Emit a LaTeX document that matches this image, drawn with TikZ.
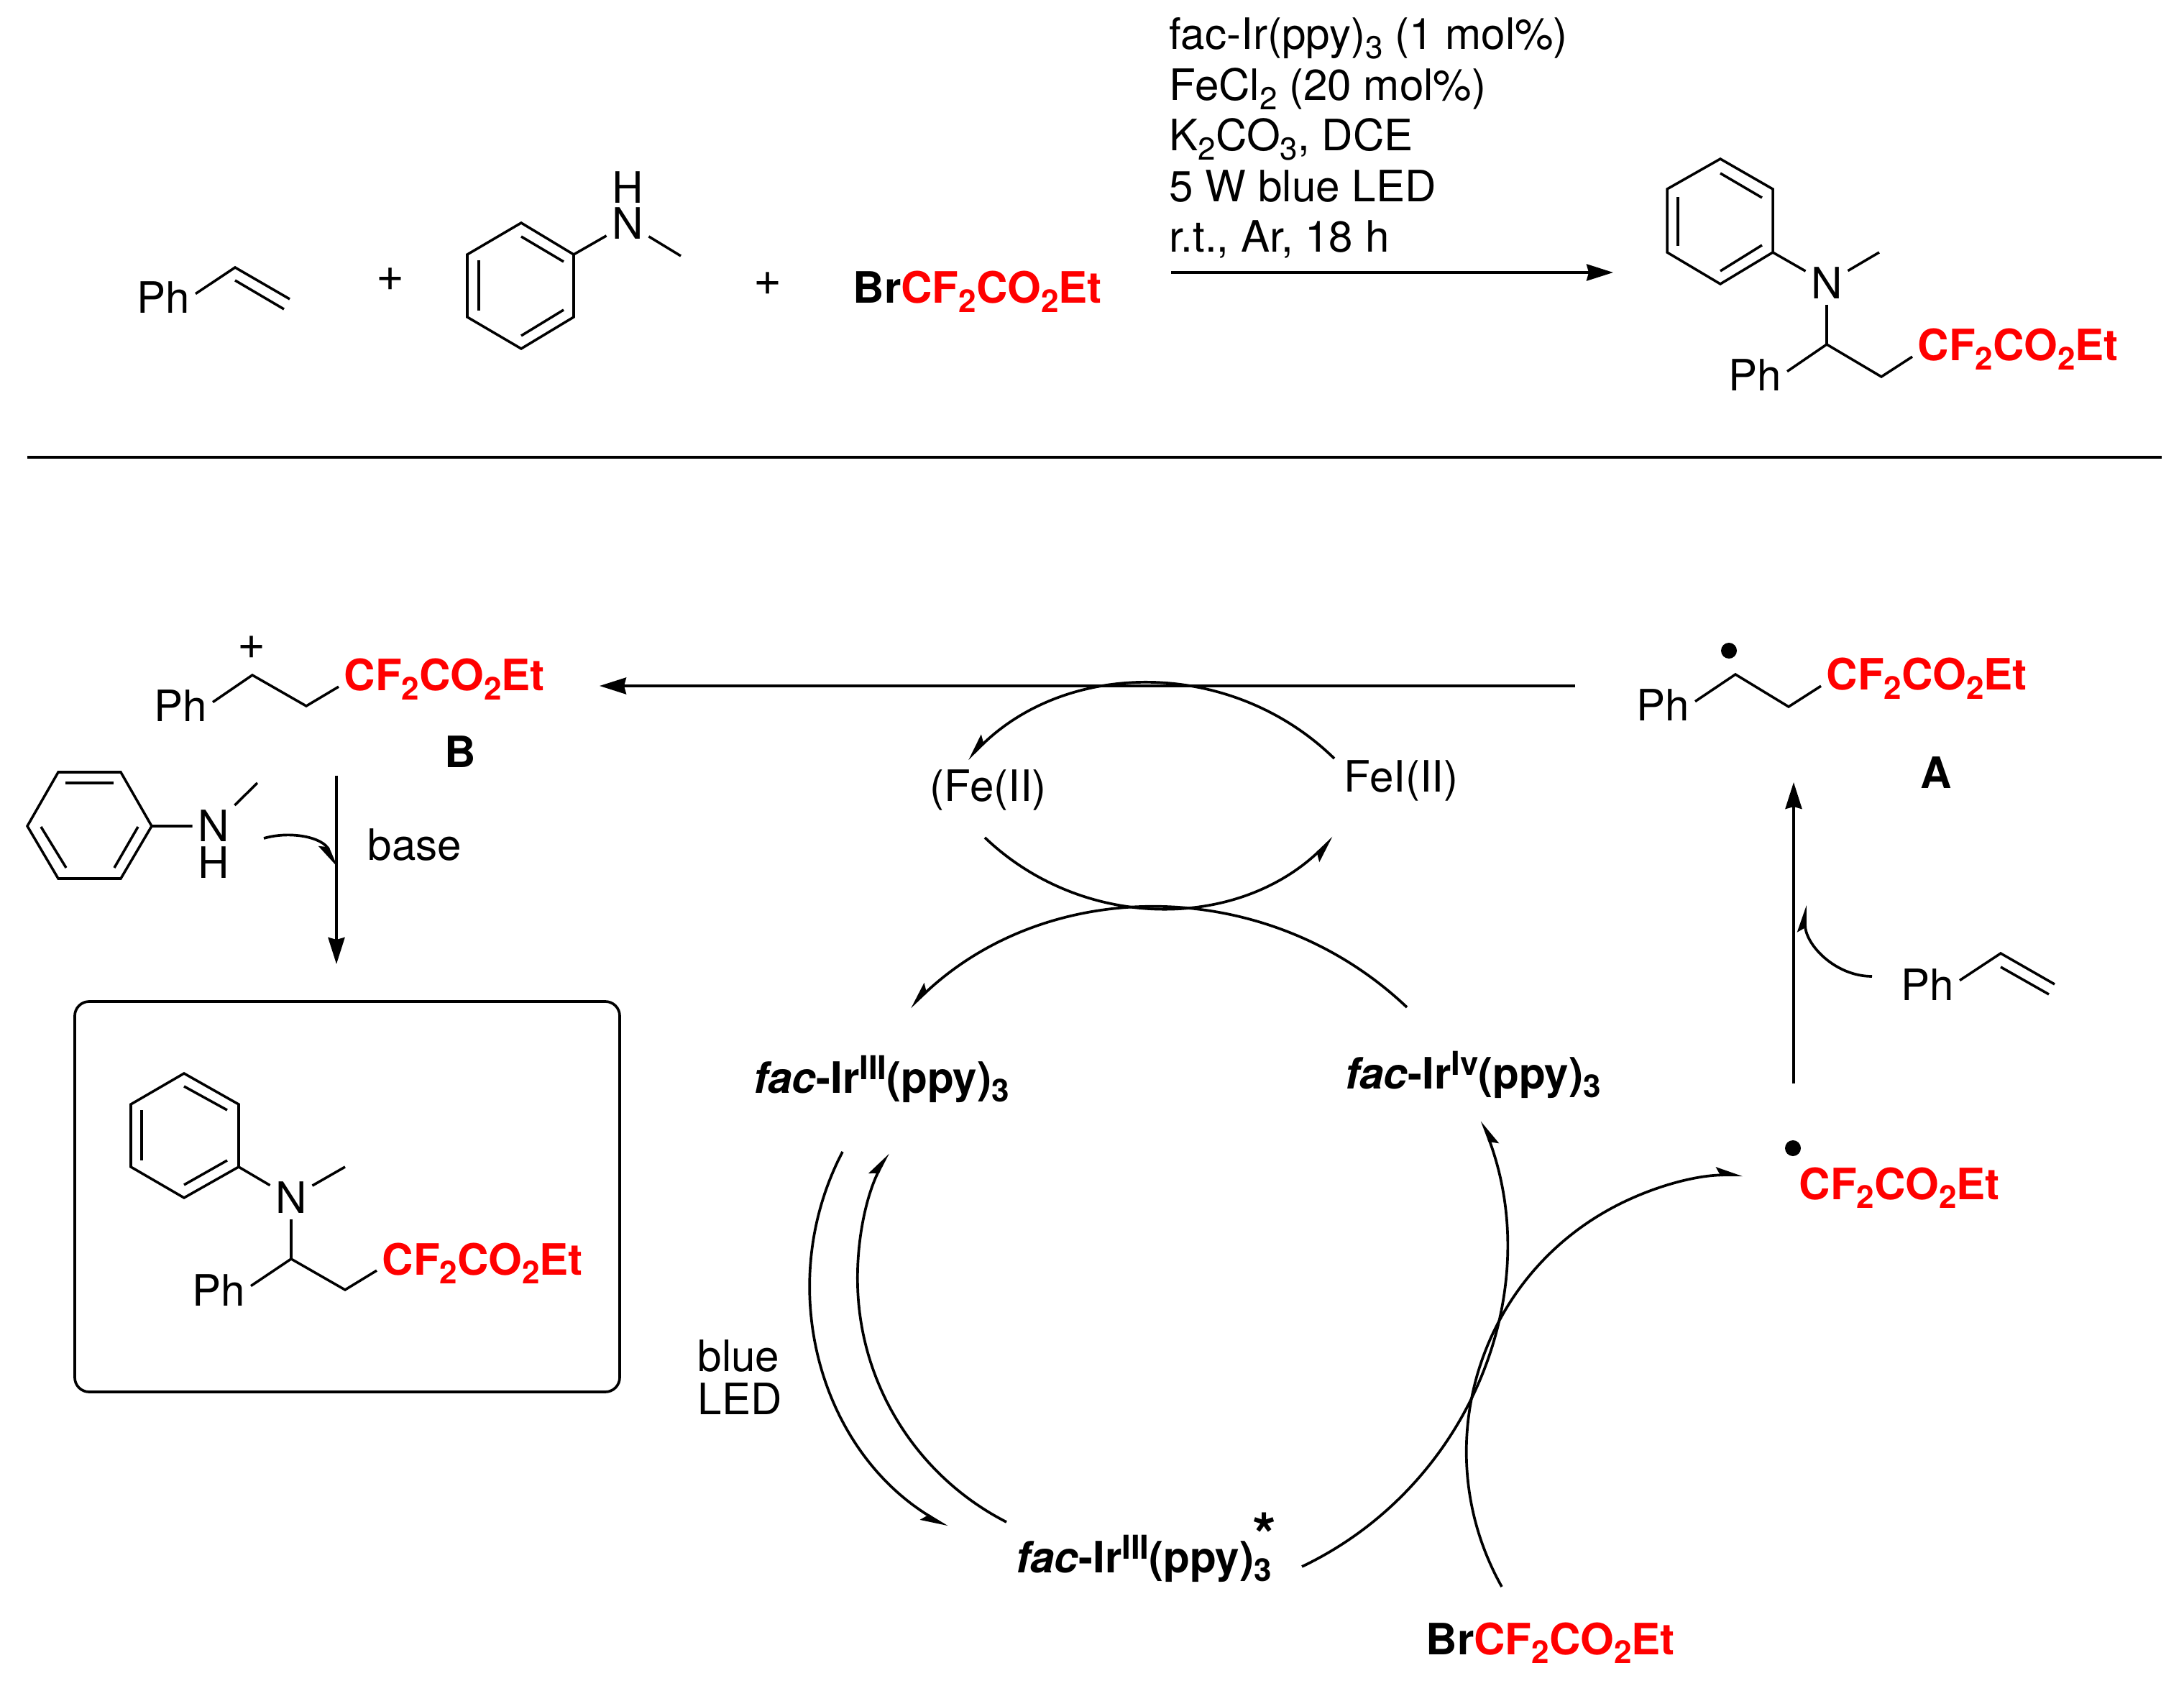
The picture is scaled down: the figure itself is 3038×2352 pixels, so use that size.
\documentclass[tikz,border=0pt]{standalone}
\usepackage{fontspec}
\setmainfont{TeX Gyre Heros}
\usetikzlibrary{arrows.meta}
\definecolor{cfred}{RGB}{255,0,0}
\newcommand{\lowdig}[1]{\raisebox{-3.5pt}{\fontsize{12.5}{12.5}\selectfont #1}}
\newcommand{\updig}[1]{\raisebox{5.4pt}{\fontsize{13}{13}\selectfont #1}}
\newcommand{\cfchain}{\textcolor{cfred}{\bfseries CF\lowdig{2}CO\lowdig{2}Et}}
\newcommand{\facir}[1]{{\bfseries{\itshape fac}-Ir\updig{#1}(ppy)\lowdig{3}}}
\tikzset{
  bond/.style={line width=1pt},
  rule/.style={line width=1.05pt},
  rxn/.style={line width=1.05pt,-{Stealth[length=0.37cm,width=0.23cm,inset=0.03cm]}},
  curveR/.style={line width=1.05pt,-{Stealth[harpoon,swap,length=0.32cm,width=0.22cm,inset=0.06cm]}},
  curveL/.style={line width=1.05pt,-{Stealth[harpoon,length=0.32cm,width=0.22cm,inset=0.06cm]}},
  lbl/.style={anchor=base west,xshift=-0.03cm},
  plussign/.style={font=\fontsize{19}{19}\selectfont},
  radical/.style={circle,fill=black,inner sep=0pt,minimum size=0.22cm}
}

\begin{document}
\begin{tikzpicture}[x=0.01cm,y=-0.01cm,every node/.style={font=\fontsize{17.1}{17.1}\selectfont,inner sep=2pt}]
        \useasboundingbox (0,0) rectangle (3038,2352);

        % top line, reactants
        \node (phTop) at (186,436) [lbl] {Ph};
        \draw[bond] (phTop.7) -- (327,372) -- (403,416);
        \draw[bond] (327,390) -- (395,430);
        \node (plusA) at (543,389) [plussign] {+};

        \coordinate (ringTop) at (798,354);
        \draw[bond] (725,310) -- (ringTop) -- (798,441) -- (725,485) -- (650,441) -- (650,354) -- cycle;
        \draw[bond] (725,329) -- (784,364);
        \draw[bond] (784,431) -- (725,467);
        \draw[bond] (666,362) -- (666,432);
        \node (nTop) at (873,311) {N};
        \node (hTop) at (873,261) {H};
        \draw[bond] (ringTop) -- (nTop) -- (947,356);
        \node (plusB) at (1068,395) [plussign] {+};
        \node (brTop) at (1182,422) [lbl] {\textbf{Br}\cfchain};

        % conditions
        \node (condA) at (1622,69) [lbl] {fac-Ir(ppy)\lowdig{3} (1 mol\%)};
        \node (condB) at (1622,140) [lbl] {FeCl\lowdig{2} (20 mol\%)};
        \node (condC) at (1622,210) [lbl] {K\lowdig{2}CO\lowdig{3}, DCE};
        \node (condD) at (1622,281) [lbl] {5 W blue LED};
        \node (condE) at (1622,351) [lbl] {r.t., Ar, 18 h};
        \coordinate (rxnS) at (1629,379);
        \coordinate (rxnE) at (2244,379);
        \draw[rxn] (rxnS) -- (rxnE);

        % top line, product
        \coordinate (ringProd) at (2466,351);
        \draw[bond] (2393,221) -- (2466,263) -- (ringProd) -- (2393,395) -- (2319,351) -- (2319,263) -- cycle;
        \draw[bond] (2393,241) -- (2451,275);
        \draw[bond] (2451,341) -- (2393,377);
        \draw[bond] (2334,274) -- (2334,342);
        \node (nProd) at (2541,394) {N};
        \draw[bond] (ringProd) -- (nProd) -- (2614,351);
        \node (phProd) at (2400,544) [lbl] {Ph};
        \node (cfProd) at (2663,502) [lbl] {\cfchain};
        \draw[bond] (nProd) -- (2541,479);
        \draw[bond] (phProd.7) -- (2541,479) -- (2617,524) -- (cfProd.184);

        \draw[rule] (38,636) -- (3007,636);

        % cation B and the amine
        \node (plusC) at (350,901) [plussign] {+};
        \node (phB) at (210,1004) [lbl] {Ph};
        \node (cfB) at (474,961) [lbl] {\cfchain};
        \draw[bond] (phB.7) -- (351,939) -- (426,982) -- (cfB.184);
        \node (labB) at (640,1046) {\textbf{B}};

        \coordinate (ringB) at (211,1149);
        \draw[bond] (81,1074) -- (168,1074) -- (ringB) -- (168,1222) -- (81,1222) -- (38,1149) -- cycle;
        \draw[bond] (91,1089) -- (158,1089);
        \draw[bond] (57,1150) -- (92,1207);
        \draw[bond] (192,1150) -- (159,1207);
        \node (nB) at (297,1149) {N};
        \node (hB) at (297,1200) {H};
        \draw[bond] (ringB) -- (nB) -- (358,1089);

        \coordinate (baseS) at (468,1079);
        \coordinate (baseE) at (468,1341);
        \draw[rxn] (baseS) -- (baseE);
        \coordinate (amineS) at (367,1166);
        \draw[curveR] (amineS) .. controls (405,1155) and (450,1165) .. (468,1207);
        \node (labBase) at (507,1196) [lbl] {base};

        % boxed product
        \draw[rule,rounded corners=0.2cm] (104,1393) rectangle (862,1936);
        \coordinate (ringBox) at (332,1623);
        \draw[bond] (256,1493) -- (332,1536) -- (ringBox) -- (256,1666) -- (182,1623) -- (182,1536) -- cycle;
        \draw[bond] (256,1511) -- (316,1544);
        \draw[bond] (316,1614) -- (256,1648);
        \draw[bond] (197,1544) -- (197,1614);
        \node (nBox) at (405,1666) {N};
        \draw[bond] (ringBox) -- (nBox) -- (480,1623);
        \node (phBox) at (263,1816) [lbl] {Ph};
        \node (cfBox) at (527,1773) [lbl] {\cfchain};
        \draw[bond] (nBox) -- (405,1751);
        \draw[bond] (phBox.7) -- (405,1751) -- (480,1794) -- (cfBox.184);

        % arrow from A to B
        \coordinate (radS) at (2191,954);
        \coordinate (radE) at (834,954);
        \draw[rxn] (radS) -- (radE);

        % iron cycle
        \node (feA) at (1289,1114) [lbl] {(Fe(II)};
        \node (feB) at (1865,1102) [lbl] {FeI(II)};
        \coordinate (feAr) at (1856,1055);
        \draw[curveR] (feAr) arc (-45.7:-134.5:364.6);
        \coordinate (feBl) at (1370,1165);
        \draw[curveR] (feBl) arc (133.7:46.3:350.8);

        % iridium cycle
        \node (irA) at (1044,1520) [lbl] {\facir{III}};
        \node (irB) at (1867,1514) [lbl] {\facir{Iv}};
        \node (irC) at (1409,2187) [lbl] {\facir{III}};
        \node (starC) at (1759,2135) {\fontsize{24}{24}\selectfont\textbf{*}};
        \node (blueA) at (966,1907) [lbl] {blue};
        \node (blueB) at (966,1967) [lbl] {LED};
        \coordinate (irBr) at (1957,1401);
        \draw[curveR] (irBr) arc (-46.5:-133.5:502);
        \coordinate (irAo) at (1172,1602);
        \draw[curveR] (irAo) arc (207.6:121.2:395.7);
        \coordinate (irCi) at (1400,2117);
        \draw[curveL] (irCi) arc (117.1:207.3:380.5);
        \coordinate (irCr) at (1811,2179);
        \draw[curveR] (irCr) arc (64.5:-20.5:495);

        % bromide to the free radical
        \node (brBot) at (1979,2301) [lbl] {\textbf{Br}\cfchain};
        \coordinate (brS) at (2089,2207);
        \draw[curveL] (brS) arc (150.7:270:384.5);
        \node (dotC) at (2494,1597) [radical] {};
        \node (cfC) at (2498,1668) [lbl] {\cfchain};

        % radical A and the styrene
        \node (dotA) at (2405,905) [radical] {};
        \node (phA) at (2272,1003) [lbl] {Ph};
        \node (cfA) at (2536,960) [lbl] {\cfchain};
        \draw[bond] (phA.7) -- (2414,938) -- (2488,983) -- (cfA.184);
        \node (labA) at (2693,1075) {\textbf{A}};
        \coordinate (upS) at (2495,1507);
        \coordinate (upE) at (2495,1088);
        \draw[rxn] (upS) -- (upE);
        \coordinate (styS) at (2604,1358);
        \draw[curveL] (styS) arc (90:180:93 and 99);
        \node (phS) at (2640,1391) [lbl] {Ph};
        \draw[bond] (phS.7) -- (2783,1326) -- (2858,1369);
        \draw[bond] (2783,1345) -- (2850,1383);
\end{tikzpicture}
\end{document}
